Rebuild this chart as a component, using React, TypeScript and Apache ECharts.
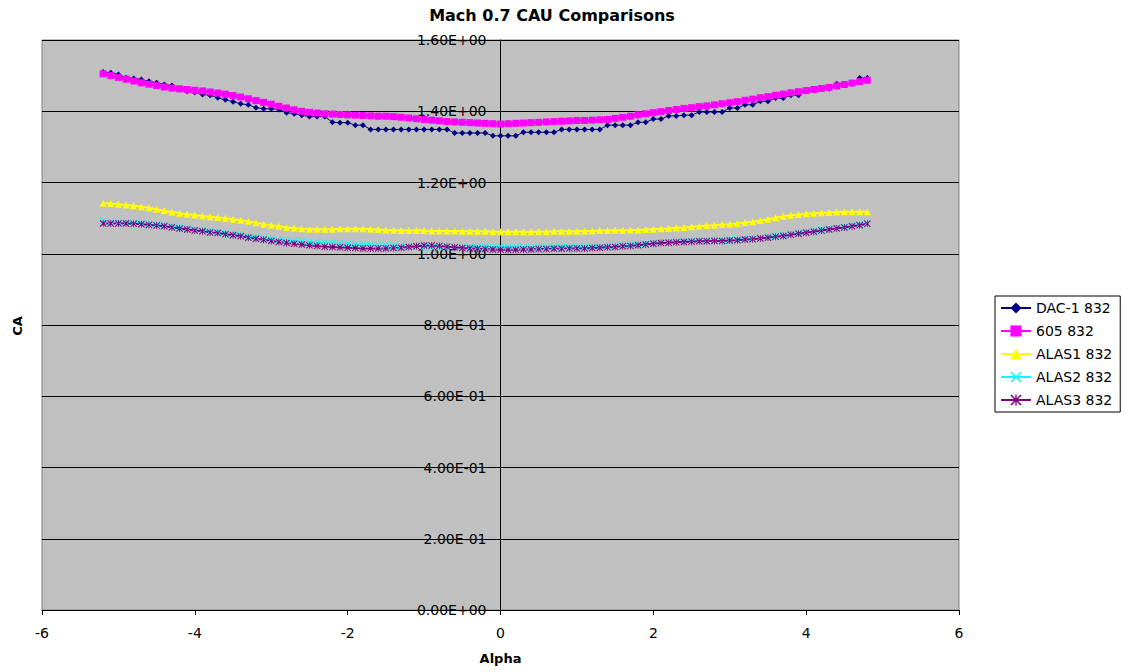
import React, { useEffect, useRef } from "react";
import * as echarts from "echarts";

const alpha = [
  -5.2, -5.1, -5.0, -4.9, -4.8, -4.7, -4.6, -4.5, -4.4, -4.3,
  -4.2, -4.1, -4.0, -3.9, -3.8, -3.7, -3.6, -3.5, -3.4, -3.3,
  -3.2, -3.1, -3.0, -2.9, -2.8, -2.7, -2.6, -2.5, -2.4, -2.3,
  -2.2, -2.1, -2.0, -1.9, -1.8, -1.7, -1.6, -1.5, -1.4, -1.3,
  -1.2, -1.1, -1.0, -0.9, -0.8, -0.7, -0.6, -0.5, -0.4, -0.3,
  -0.2, -0.1, 0.0, 0.1, 0.2, 0.3, 0.4, 0.5, 0.6, 0.7,
  0.8, 0.9, 1.0, 1.1, 1.2, 1.3, 1.4, 1.5, 1.6, 1.7,
  1.8, 1.9, 2.0, 2.1, 2.2, 2.3, 2.4, 2.5, 2.6, 2.7,
  2.8, 2.9, 3.0, 3.1, 3.2, 3.3, 3.4, 3.5, 3.6, 3.7,
  3.8, 3.9, 4.0, 4.1, 4.2, 4.3, 4.4, 4.5, 4.6, 4.7,
  4.8,
];

const dac1 = [
  1.510, 1.508, 1.503, 1.494, 1.492, 1.489, 1.484, 1.480, 1.475, 1.472,
  1.461, 1.456, 1.453, 1.447, 1.445, 1.438, 1.432, 1.427, 1.421, 1.418,
  1.410, 1.407, 1.407, 1.405, 1.396, 1.393, 1.389, 1.385, 1.385, 1.385,
  1.369, 1.368, 1.368, 1.361, 1.361, 1.349, 1.349, 1.349, 1.349, 1.349,
  1.349, 1.349, 1.349, 1.349, 1.349, 1.349, 1.339, 1.339, 1.339, 1.339,
  1.339, 1.331, 1.331, 1.331, 1.331, 1.341, 1.341, 1.341, 1.341, 1.341,
  1.349, 1.349, 1.349, 1.349, 1.349, 1.349, 1.361, 1.361, 1.361, 1.361,
  1.369, 1.369, 1.378, 1.378, 1.387, 1.387, 1.389, 1.389, 1.398, 1.398,
  1.398, 1.398, 1.409, 1.409, 1.418, 1.418, 1.428, 1.428, 1.437, 1.437,
  1.445, 1.445, 1.459, 1.459, 1.463, 1.463, 1.477, 1.477, 1.477, 1.493,
  1.493,
];

const s605 = [
  1.505, 1.500, 1.495, 1.490, 1.485, 1.480, 1.476, 1.472, 1.468, 1.465,
  1.463, 1.461, 1.459, 1.457, 1.454, 1.451, 1.448, 1.444, 1.440, 1.435,
  1.430, 1.425, 1.420, 1.414, 1.409, 1.404, 1.400, 1.397, 1.395, 1.393,
  1.392, 1.391, 1.390, 1.389, 1.388, 1.387, 1.386, 1.386, 1.385, 1.383,
  1.381, 1.379, 1.377, 1.375, 1.373, 1.371, 1.370, 1.369, 1.368, 1.367,
  1.366, 1.365, 1.364, 1.365, 1.366, 1.367, 1.368, 1.369, 1.370, 1.371,
  1.372, 1.373, 1.374, 1.374, 1.375, 1.376, 1.377, 1.380, 1.383, 1.386,
  1.390, 1.393, 1.396, 1.399, 1.402, 1.405, 1.408, 1.410, 1.413, 1.415,
  1.418, 1.421, 1.424, 1.427, 1.431, 1.434, 1.438, 1.441, 1.445, 1.448,
  1.452, 1.455, 1.458, 1.461, 1.464, 1.467, 1.471, 1.475, 1.479, 1.483,
  1.487,
];

const alas1 = [
  1.142, 1.141, 1.139, 1.137, 1.135, 1.132, 1.129, 1.125, 1.121, 1.117,
  1.114, 1.111, 1.109, 1.106, 1.104, 1.102, 1.100, 1.097, 1.094, 1.091,
  1.087, 1.083, 1.080, 1.077, 1.074, 1.072, 1.070, 1.069, 1.069, 1.069,
  1.069, 1.070, 1.070, 1.070, 1.070, 1.069, 1.068, 1.067, 1.066, 1.065,
  1.065, 1.065, 1.065, 1.064, 1.064, 1.064, 1.064, 1.063, 1.063, 1.063,
  1.063, 1.062, 1.062, 1.062, 1.062, 1.062, 1.062, 1.062, 1.062, 1.063,
  1.063, 1.063, 1.063, 1.064, 1.064, 1.065, 1.065, 1.066, 1.066, 1.067,
  1.067, 1.068, 1.069, 1.070, 1.071, 1.073, 1.074, 1.076, 1.077, 1.079,
  1.080, 1.082, 1.083, 1.085, 1.088, 1.090, 1.093, 1.097, 1.101, 1.105,
  1.108, 1.110, 1.112, 1.114, 1.115, 1.116, 1.117, 1.118, 1.118, 1.118,
  1.118,
];

const alas2 = [
  1.092, 1.090, 1.089, 1.088, 1.087, 1.086, 1.084, 1.082, 1.080, 1.077,
  1.074, 1.071, 1.068, 1.066, 1.063, 1.061, 1.058, 1.055, 1.052, 1.049,
  1.046, 1.043, 1.041, 1.039, 1.038, 1.036, 1.035, 1.033, 1.032, 1.031,
  1.030, 1.029, 1.028, 1.027, 1.026, 1.025, 1.024, 1.023, 1.022, 1.021,
  1.021, 1.020, 1.020, 1.019, 1.019, 1.018, 1.018, 1.018, 1.019, 1.019,
  1.020, 1.020, 1.021, 1.020, 1.020, 1.019, 1.019, 1.019, 1.019, 1.019,
  1.019, 1.019, 1.019, 1.020, 1.020, 1.020, 1.021, 1.022, 1.024, 1.025,
  1.027, 1.028, 1.030, 1.031, 1.033, 1.034, 1.035, 1.036, 1.037, 1.037,
  1.038, 1.038, 1.039, 1.040, 1.042, 1.043, 1.045, 1.047, 1.050, 1.052,
  1.055, 1.058, 1.061, 1.064, 1.067, 1.070, 1.073, 1.076, 1.079, 1.083,
  1.087,
];

const alas3 = [
  1.085, 1.085, 1.085, 1.085, 1.084, 1.083, 1.081, 1.079, 1.077, 1.074,
  1.071, 1.068, 1.065, 1.063, 1.060, 1.058, 1.055, 1.052, 1.049, 1.045,
  1.042, 1.039, 1.036, 1.033, 1.030, 1.028, 1.026, 1.024, 1.022, 1.020,
  1.019, 1.018, 1.017, 1.016, 1.015, 1.015, 1.015, 1.015, 1.016, 1.017,
  1.019, 1.021, 1.023, 1.023, 1.022, 1.020, 1.018, 1.016, 1.015, 1.014,
  1.013, 1.012, 1.011, 1.011, 1.011, 1.012, 1.012, 1.013, 1.013, 1.014,
  1.014, 1.015, 1.015, 1.015, 1.016, 1.017, 1.018, 1.019, 1.021, 1.022,
  1.024, 1.026, 1.028, 1.030, 1.031, 1.032, 1.033, 1.034, 1.035, 1.035,
  1.036, 1.036, 1.037, 1.038, 1.040, 1.041, 1.043, 1.045, 1.048, 1.050,
  1.053, 1.056, 1.059, 1.062, 1.065, 1.068, 1.071, 1.074, 1.077, 1.080,
  1.084,
];

const seriesNames = ["DAC-1 832", "605 832", "ALAS1 832", "ALAS2 832", "ALAS3 832"];
const seriesValues = [dac1, s605, alas1, alas2, alas3];
const seriesColors = ["#000080", "#FF00FF", "#FFFF00", "#00FFFF", "#800080"];

const X_PATH = "path://M0,1L1,0L5,4L9,0L10,1L6,5L10,9L9,10L5,6L1,10L0,9L4,5Z";
const STAR_PATH =
  "path://M0,1L1,0L5,4L9,0L10,1L6,5L10,9L9,10L5,6L1,10L0,9L4,5ZM4.4,0L5.6,0L5.6,10L4.4,10Z";
const seriesSymbols = ["diamond", "rect", "triangle", X_PATH, STAR_PATH];
const seriesSymbolSizes = [6, 7, 7, 7, 7];
const seriesLineWidths = [1, 3, 2, 1, 2];

const FONT = "DejaVu Sans";

function fmtExp(v: number): string {
  const [m, e] = v.toExponential(2).split("e");
  const n = parseInt(e, 10);
  const sign = n < 0 ? "-" : "+";
  const abs = Math.abs(n);
  return m + "E" + sign + (abs < 10 ? "0" + abs : String(abs));
}

export default function App() {
  const ref = useRef<HTMLDivElement>(null);
  useEffect(() => {
    if (!ref.current) return;
    const chart = echarts.init(ref.current, null, { renderer: "svg" });
    const series = seriesNames.map((name, i) => ({
      name,
      type: "line",
      data: alpha.map((a, j) => [a, seriesValues[i][j]]),
      symbol: seriesSymbols[i],
      symbolSize: seriesSymbolSizes[i],
      showSymbol: true,
      showAllSymbol: true,
      color: seriesColors[i],
      itemStyle: { color: seriesColors[i] },
      lineStyle: { color: seriesColors[i], width: seriesLineWidths[i] },
      emphasis: { disabled: true },
    }));
    const plotLeft = 42;
    const plotRight = 959;
    chart.setOption({
      animation: false,
      backgroundColor: "#ffffff",
      grid: {
        left: plotLeft,
        right: 1132 - plotRight,
        top: 40,
        bottom: 62,
        containLabel: false,
        outerBoundsMode: "none",
        show: true,
        backgroundColor: "#C0C0C0",
        borderColor: "#808080",
        borderWidth: 1,
      },
      xAxis: {
        type: "value",
        min: -6,
        max: 6,
        interval: 2,
        name: "Alpha",
        nameLocation: "middle",
        nameGap: 42,
        nameTextStyle: { fontFamily: FONT, fontWeight: "bold", fontSize: 13, color: "#000" },
        axisLine: { show: true, onZero: false, lineStyle: { color: "#000", width: 1 } },
        axisTick: { show: true, length: 5, lineStyle: { color: "#000" } },
        axisLabel: { fontFamily: FONT, fontSize: 14, color: "#000", margin: 16 },
        splitLine: { show: false },
      },
      yAxis: {
        type: "value",
        min: 0,
        max: 1.6,
        interval: 0.2,
        position: "left",
        offset: -(plotRight - plotLeft) / 2,
        axisLine: { show: true, onZero: false, lineStyle: { color: "#000", width: 1 } },
        axisTick: { show: true, length: 5, lineStyle: { color: "#000" } },
        axisLabel: {
          fontFamily: FONT,
          fontSize: 14,
          color: "#000",
          margin: 14,
          formatter: (v: number) => fmtExp(v),
        },
        splitLine: { show: true, lineStyle: { color: "#000", width: 1 } },
      },
      legend: {
        data: seriesNames,
        orient: "vertical",
        left: 995,
        top: 296,
        itemWidth: 30,
        itemHeight: 14,
        itemGap: 9,
        padding: [5, 8, 5, 5],
        backgroundColor: "#ffffff",
        borderColor: "#000000",
        borderWidth: 1,
        borderRadius: 0,
        textStyle: { fontFamily: FONT, fontSize: 14, color: "#000" },
        selectedMode: false,
      },
      graphic: [
        {
          type: "text",
          x: 552,
          y: 15,
          style: {
            text: "Mach 0.7 CAU Comparisons",
            fontFamily: FONT,
            fontWeight: "bold",
            fontSize: 16,
            fill: "#000",
            textAlign: "center",
            textVerticalAlign: "middle",
          },
        },
        {
          type: "text",
          x: 17,
          y: 326,
          rotation: Math.PI / 2,
          style: {
            text: "CA",
            fontFamily: FONT,
            fontWeight: "bold",
            fontSize: 13,
            fill: "#000",
            textAlign: "center",
            textVerticalAlign: "middle",
          },
        },
      ],
      series,
    });
    return () => chart.dispose();
  }, []);
  return (
    <div
      ref={ref}
      style={{ position: "fixed", left: 0, top: 0, width: 1132, height: 672, background: "#fff" }}
    />
  );
}
